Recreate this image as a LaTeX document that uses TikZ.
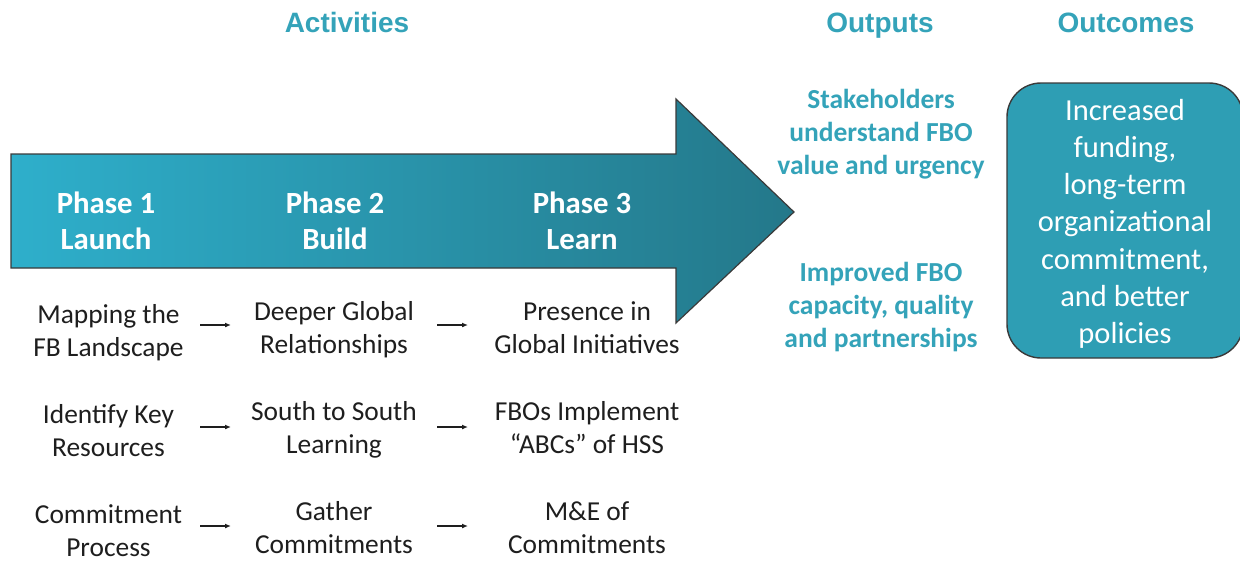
\documentclass[tikz,border=0pt]{standalone}
\usepackage{fontspec}
\setmainfont{Carlito}
\newfontfamily\headfont{Liberation Sans}
\usetikzlibrary{arrows.meta}
\definecolor{headteal}{HTML}{34A3B9}
\definecolor{boxfill}{HTML}{2E9EB4}
\definecolor{arrL}{HTML}{2EAFCB}
\definecolor{arrR}{HTML}{24788A}
\definecolor{edge}{HTML}{3A3A3A}
\definecolor{txt}{HTML}{1E1E1E}
\tikzset{
  heading/.style={font=\headfont\bfseries\fontsize{28}{34}\selectfont, text=headteal, inner sep=0pt, anchor=base},
  phase/.style={font=\bfseries\fontsize{30.8}{36}\selectfont, text=white, inner sep=0pt, anchor=base, text width=200pt, align=flush center},
  activity/.style={font=\fontsize{27.4}{33}\selectfont, text=txt, inner sep=0pt, anchor=base, text width=200pt, align=flush center},
  output/.style={font=\bfseries\fontsize{27.5}{33}\selectfont, text=headteal, inner sep=0pt, anchor=base, text width=240pt, align=flush center},
  outbox/.style={draw=edge, line width=1.4pt, fill=boxfill, rounded corners=34pt, minimum width=236pt, minimum height=275pt, inner sep=0pt},
  outtext/.style={text=white, inner sep=0pt, anchor=base, text width=230pt, align=flush center, font=\fontsize{30.5}{37.3}\selectfont},
  smallarrow/.style={draw=txt, line width=1.3pt, -{Latex[length=6pt,width=5pt]}},
  bigarrow/.style={draw=edge, line width=1.2pt, left color=arrL, right color=arrR}
}
\begin{document}
\begin{tikzpicture}[x=1pt,y=-1pt]
\useasboundingbox (0,0) rectangle (1240,560);
% headings
\node[heading] (hact) at (347,32) {Activities};
\node[heading] (hout) at (880,32) {Outputs};
\node[heading] (hocm) at (1126,32) {Outcomes};
% big arrow
\path[bigarrow] (11,154) -- (676,154) -- (676,99) -- (794,212) -- (676,323) -- (676,268) -- (11,268) -- cycle;
% phases
\node[phase] (p1) at (106,213) {Phase 1\\Launch};
\node[phase] (p2) at (335,213) {Phase 2\\Build};
\node[phase] (p3) at (582,213) {Phase 3\\Learn};
% activities
\node[activity] (a11) at (108.5,323) {Mapping the\\FB Landscape};
\node[activity] (a12) at (334,320) {Deeper Global\\Relationships};
\node[activity] (a13) at (587,320) {Presence in\\Global Initiatives};
\node[activity] (a21) at (108.5,423) {Identify Key\\Resources};
\node[activity] (a22) at (334,420) {South to South\\Learning};
\node[activity] (a23) at (587,420) {FBOs Implement\\\char"201C ABCs\char"201D\ of HSS};
\node[activity] (a31) at (108.5,523) {Commitment\\Process};
\node[activity] (a32) at (334,520) {Gather\\Commitments};
\node[activity] (a33) at (587,520) {M\&E of\\Commitments};
% small arrows
\coordinate (r1a) at (200,325); \coordinate (r1b) at (231,325);
\coordinate (r1c) at (437,325); \coordinate (r1d) at (468,325);
\coordinate (r2a) at (200,427); \coordinate (r2b) at (231,427);
\coordinate (r2c) at (437,427); \coordinate (r2d) at (468,427);
\coordinate (r3a) at (200,526); \coordinate (r3b) at (231,526);
\coordinate (r3c) at (437,526); \coordinate (r3d) at (468,526);
\draw[smallarrow] (r1a) -- (r1b);
\draw[smallarrow] (r1c) -- (r1d);
\draw[smallarrow] (r2a) -- (r2b);
\draw[smallarrow] (r2c) -- (r2d);
\draw[smallarrow] (r3a) -- (r3b);
\draw[smallarrow] (r3c) -- (r3d);
% outputs
\node[output] (o1) at (881,108) {Stakeholders\\understand FBO\\value and urgency};
\node[output] (o2) at (881,281) {Improved FBO\\capacity, quality\\and partnerships};
% outcomes
\node[outbox] (oc) at (1125,220.5) {};
\node[outtext] (octext) at (1125,120) {Increased\\funding,\\long-term\\organizational\\commitment,\\and better\\policies};
\end{tikzpicture}
\end{document}
